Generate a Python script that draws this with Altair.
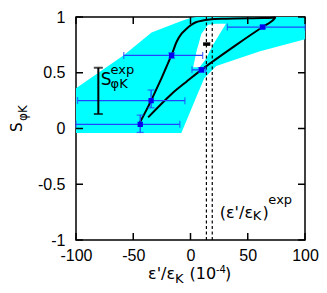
import altair as alt
import pandas as pd

W, H = 229, 223
FONT = "Liberation Sans"
GFONT = "DejaVu Sans"

# cyan allowed region (outer boundary)
band_x = [-100, -58, -34, -8, 0, 5, 12, 22.5, 60, 100]
band_lo = [-0.04, -0.04, -0.04, -0.04, 0.156, 0.28, 0.45, 0.56, 0.69, 0.80]
band_hi = [0.36, 0.66, 0.86, 0.965, 0.99, 1.0, 1.0, 1.0, 1.0, 1.0]

# white hole inside the cyan region (read row by row in y)
hole_y = [0.55, 0.63, 0.69, 0.75, 0.85, 0.93, 0.94]
hole_xl = [2.3, 4.0, 5.2, 6.8, 9.5, 15.3, 22.0]
hole_xr = [8.0, 13.9, 16.7, 19.6, 25.6, 30.4, 31.0]

# black trajectory
curve_x = [-45.2, -34.4, -16.5, -12, -7.8, -3.5, 0, 5.2, 16.7, 31, 63, 71.6, 74,
           70, 63, 40, 9.5, -3.5, -16.5, -37]
curve_y = [0.035, 0.25, 0.66, 0.78, 0.85, 0.895, 0.925, 0.955, 0.978, 0.985, 0.99, 0.993, 0.995,
           0.955, 0.91, 0.75, 0.526, 0.42, 0.31, 0.10]

# blue points with error bars
pt_x = [-43.9, -34.4, -16.5, 9.5, 63]
pt_y = [0.037, 0.25, 0.655, 0.526, 0.91]
pt_xlo = [-100, -98.7, -58.3, 1.3, 32.2]
pt_xhi = [-9.3, -4.9, 10.6, 13.4, 100]
pt_ylo = [-0.035, 0.186, 0.63, 0.506, 0.895]
pt_yhi = [0.12, 0.345, 0.678, 0.546, 0.925]

# experimental values
s_exp_x = -80.5
s_exp_lo, s_exp_hi = 0.13, 0.545
eps_exp_lines = [13.9, 19.0]
exp_mark_x = [11.0, 17.3]
exp_mark_y = 0.757

xticks = [-100, -50, 0, 50, 100]
yticks = [-1, -0.5, 0, 0.5, 1]

xs = alt.Scale(domain=[-100, 100], nice=False, zero=False)
ys = alt.Scale(domain=[-1, 1], nice=False, zero=False)

AXX = alt.Axis(values=xticks, title=None, ticks=False, tickSize=0, domain=False, grid=False,
               labelFontSize=16, labelFont=FONT, labelColor="black", labelPadding=7,
               labelFlush=False, labelOverlap=False, labelExpr="'' + datum.value")
AXY = alt.Axis(values=yticks, title=None, ticks=False, tickSize=0, domain=False, grid=False,
               labelFontSize=16, labelFont=FONT, labelColor="black", labelPadding=11,
               labelFlush=False, labelOverlap=False, labelExpr="'' + datum.value")


def X(f):
    return alt.X(f, type="quantitative", scale=xs, axis=AXX)


def Y(f):
    return alt.Y(f, type="quantitative", scale=ys, axis=AXY)


band = pd.DataFrame({"x": band_x, "lo": band_lo, "hi": band_hi})
hole = pd.DataFrame({"y": hole_y, "xl": hole_xl, "xr": hole_xr})
curve = pd.DataFrame({"x": curve_x, "y": curve_y, "o": list(range(len(curve_x)))})
pts = pd.DataFrame({"x": pt_x, "y": pt_y, "xlo": pt_xlo, "xhi": pt_xhi, "ylo": pt_ylo, "yhi": pt_yhi})

band_layer = alt.Chart(band).mark_area(color="#00ffff", opacity=1).encode(
    x=X("x"), y=Y("lo"), y2="hi"
)
hole_layer = alt.Chart(hole).mark_area(color="white", orient="horizontal", opacity=1).encode(
    y=Y("y"), x=X("xl"), x2="xr"
)
dash_layer = alt.Chart(pd.DataFrame({"x": eps_exp_lines})).mark_rule(
    color="black", strokeDash=[3, 2.5], strokeWidth=1.2
).encode(x=X("x"))
curve_layer = alt.Chart(curve).mark_line(color="black", strokeWidth=2, interpolate="catmull-rom").encode(
    x=X("x"), y=Y("y"), order="o:Q"
)

EB = "#2244ff"
xbar = alt.Chart(pts).mark_rule(color=EB, strokeWidth=1.3).encode(x=X("xlo"), x2="xhi", y=Y("y"))
ybar = alt.Chart(pts).mark_rule(color=EB, strokeWidth=1.3).encode(y=Y("ylo"), y2="yhi", x=X("x"))
xcap_lo = alt.Chart(pts).mark_tick(color=EB, orient="vertical", size=7, thickness=1.3).encode(x=X("xlo"), y=Y("y"))
xcap_hi = alt.Chart(pts).mark_tick(color=EB, orient="vertical", size=7, thickness=1.3).encode(x=X("xhi"), y=Y("y"))
ycap_lo = alt.Chart(pts).mark_tick(color=EB, orient="horizontal", size=7, thickness=1.3).encode(x=X("x"), y=Y("ylo"))
ycap_hi = alt.Chart(pts).mark_tick(color=EB, orient="horizontal", size=7, thickness=1.3).encode(x=X("x"), y=Y("yhi"))
pt_layer = alt.Chart(pts).mark_square(color="#0000ee", size=28, opacity=1).encode(x=X("x"), y=Y("y"))

sexp = pd.DataFrame({"x": [s_exp_x], "lo": [s_exp_lo], "hi": [s_exp_hi]})
sexp_bar = alt.Chart(sexp).mark_rule(color="black", strokeWidth=2).encode(x=X("x"), y=Y("lo"), y2="hi")
sexp_cap1 = alt.Chart(sexp).mark_tick(color="black", orient="horizontal", size=9, thickness=2).encode(x=X("x"), y=Y("lo"))
sexp_cap2 = alt.Chart(sexp).mark_tick(color="black", orient="horizontal", size=9, thickness=2).encode(x=X("x"), y=Y("hi"))

expm = pd.DataFrame({"x": [exp_mark_x[0]], "x2": [exp_mark_x[1]], "y": [exp_mark_y]})
exp_layer = alt.Chart(expm).mark_rule(color="black", strokeWidth=3.5).encode(x=X("x"), x2="x2", y=Y("y"))

# in-plot labels (data coordinates)
lab_t = ["S", "exp", "φK", "(ε'/ε", "K", ")", "exp"]
lab_x = [-78.4, -69.8, -69.8, 25.5, 54.3, 62.8, 68.0]
lab_y = [0.39, 0.488, 0.36, -0.805, -0.823, -0.805, -0.68]
lab_s = [17, 13, 13, 16, 13, 16, 13]
labs = pd.DataFrame({"t": lab_t, "x": lab_x, "y": lab_y, "s": lab_s})
lab_layer = alt.Chart(labs).mark_text(align="left", baseline="alphabetic", font=GFONT, color="black").encode(
    x=X("x"), y=Y("y"), text="t:N", size=alt.Size("s:Q", scale=None)
)


def ptext(t, px, py, s, angle=0):
    return alt.Chart(pd.DataFrame({"t": [t]})).mark_text(
        align="left", baseline="alphabetic", font=GFONT, color="black", fontSize=s, angle=angle
    ).encode(text="t:N", x=alt.value(px), y=alt.value(py))


# axis titles (pixel positions relative to the plot area)
xtitle = [
    ptext("ε'/ε", 72, 262, 16),
    ptext("K", 99, 265.5, 13),
    ptext("(10", 113.5, 262, 16),
    ptext("-4", 140, 255.5, 10),
    ptext(")", 149, 262, 16),
]
ytitle = [
    ptext("S", -54, 115, 15, 270),
    ptext("φK", -49.5, 104, 12, 270),
]

# inward ticks on all four sides
TL = 7
xt_df = pd.DataFrame({"v": xticks})
yt_df = pd.DataFrame({"v": yticks})
tick_b = alt.Chart(xt_df).mark_rule(color="black", strokeWidth=1.5).encode(x=X("v"), y=alt.value(H), y2=alt.value(H - TL))
tick_t = alt.Chart(xt_df).mark_rule(color="black", strokeWidth=1.5).encode(x=X("v"), y=alt.value(0), y2=alt.value(TL))
tick_l = alt.Chart(yt_df).mark_rule(color="black", strokeWidth=1.5).encode(y=Y("v"), x=alt.value(0), x2=alt.value(TL))
tick_r = alt.Chart(yt_df).mark_rule(color="black", strokeWidth=1.5).encode(y=Y("v"), x=alt.value(W), x2=alt.value(W - TL))

chart = alt.layer(
    band_layer, hole_layer, dash_layer, curve_layer,
    xbar, ybar, xcap_lo, xcap_hi, ycap_lo, ycap_hi, pt_layer,
    sexp_bar, sexp_cap1, sexp_cap2, exp_layer,
    lab_layer, *xtitle, *ytitle,
    tick_b, tick_t, tick_l, tick_r,
).properties(
    width=W, height=H,
    autosize=alt.AutoSizeParams(type="none"),
    padding={"left": 68, "top": 9, "right": 14, "bottom": 45},
).configure_view(stroke="black", strokeWidth=1.5)

chart.save("out.html", embed_options={"renderer": "svg", "actions": False})
